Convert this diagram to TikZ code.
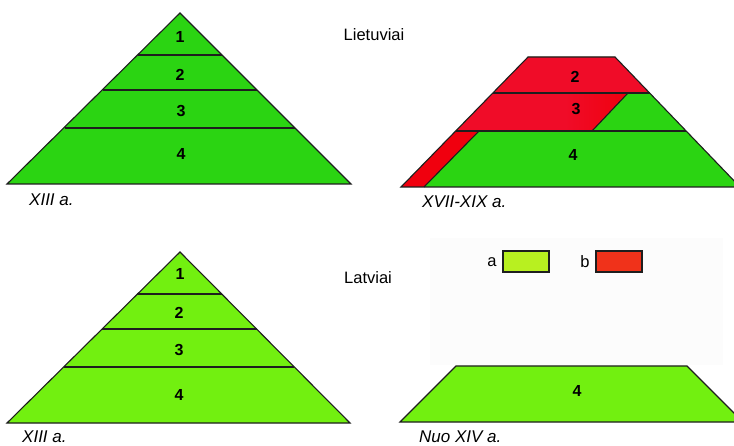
\documentclass[tikz,border=0pt]{standalone}
\usepackage{fontspec}
\setmainfont{Liberation Sans}
\definecolor{gA}{RGB}{43,212,18}
\definecolor{gB}{RGB}{114,240,16}
\definecolor{legA}{RGB}{184,240,32}
\definecolor{legB}{RGB}{240,50,26}
\definecolor{crim}{RGB}{240,12,40}
\definecolor{pred}{RGB}{240,0,14}
\definecolor{edge}{RGB}{30,30,30}
\begin{document}
\begin{tikzpicture}[x=1pt,y=-1pt,
  outline/.style={draw=edge,line width=1.1pt,line join=miter},
  sep/.style={draw=edge,line width=1.1pt},
  num/.style={font=\bfseries\fontsize{16}{16}\selectfont,inner sep=0pt},
  lbl/.style={font=\fontsize{16.5}{16.5}\selectfont,inner sep=0pt},
  era/.style={font=\itshape\fontsize{17}{17}\selectfont,inner sep=0pt,anchor=west},
  legbox/.style={draw=edge,line width=1.1pt}]
\useasboundingbox (0,0) rectangle (734,446);
\clip (0,0) rectangle (734,446);
\fill[white] (0,0) rectangle (734,446);
\fill[black!1.2] (430,238) rectangle (723,365);

% ---- top-left pyramid
\path[fill=gA,outline] (180,13) -- (351,184) -- (7,184) -- cycle;
\draw[sep] (138,55) -- (222,55);
\draw[sep] (103,90) -- (257,90);
\draw[sep] (65,128) -- (295,128);
\node[num] (tl1) at (180,37) {1};
\node[num] (tl2) at (180,75) {2};
\node[num] (tl3) at (181,111) {3};
\node[num] (tl4) at (181,154) {4};
\node[era] (tlera) at (29,200) {XIII a.};

% ---- top-right trapezoid
\fill[gA] (528,57) -- (615,57) -- (740,187) -- (401,187) -- cycle;
\fill[crim] (528,57) -- (615,57) -- (649.5,93) -- (493,93) -- cycle;
\fill[crim] (493,93) -- (566,93) -- (566,131) -- (456,131) -- cycle;
\shade[left color=crim,right color=pred] (565,93) -- (628,93) -- (592,131) -- (565,131) -- cycle;
\fill[pred] (456,131) -- (479,131) -- (424,187) -- (401,187) -- cycle;
\draw[sep] (628,93) -- (592,131);
\draw[sep] (479,131) -- (424,187);
\draw[sep] (493,93) -- (649.5,93);
\draw[sep] (456,131) -- (686,131);
\path[outline] (528,57) -- (615,57) -- (740,187) -- (401,187) -- cycle;
\node[num] (tr2) at (575,77) {2};
\node[num] (tr3) at (576,109) {3};
\node[num] (tr4) at (573,155) {4};
\node[era] (trera) at (422,202) {XVII-XIX a.};

\node[lbl] (lt) at (374,35) {Lietuviai};

% ---- bottom-left pyramid
\path[fill=gB,outline] (180,252) -- (350,423) -- (7,423) -- cycle;
\draw[sep] (137,294) -- (222,294);
\draw[sep] (102,329) -- (257,329);
\draw[sep] (64,367) -- (294,367);
\node[num] (bl1) at (180,274) {1};
\node[num] (bl2) at (179,313) {2};
\node[num] (bl3) at (179,350) {3};
\node[num] (bl4) at (179,395) {4};
\node[era] (blera) at (22,437) {XIII a.};

\node[lbl] (lv) at (368,278) {Latviai};

% ---- bottom-right trapezoid
\path[fill=gB,outline] (456,366) -- (687,366) -- (743,422) -- (400,422) -- cycle;
\node[num] (br4) at (577,391) {4};
\node[era] (brera) at (419,437) {Nuo XIV a.};

% ---- legend
\node[lbl] (la) at (492,262) {a};
\path[fill=legA,legbox] (503,251) rectangle (549,272);
\node[lbl] (lb) at (585,262) {b};
\path[fill=legB,legbox] (596,251) rectangle (642,272);
\end{tikzpicture}
\end{document}
